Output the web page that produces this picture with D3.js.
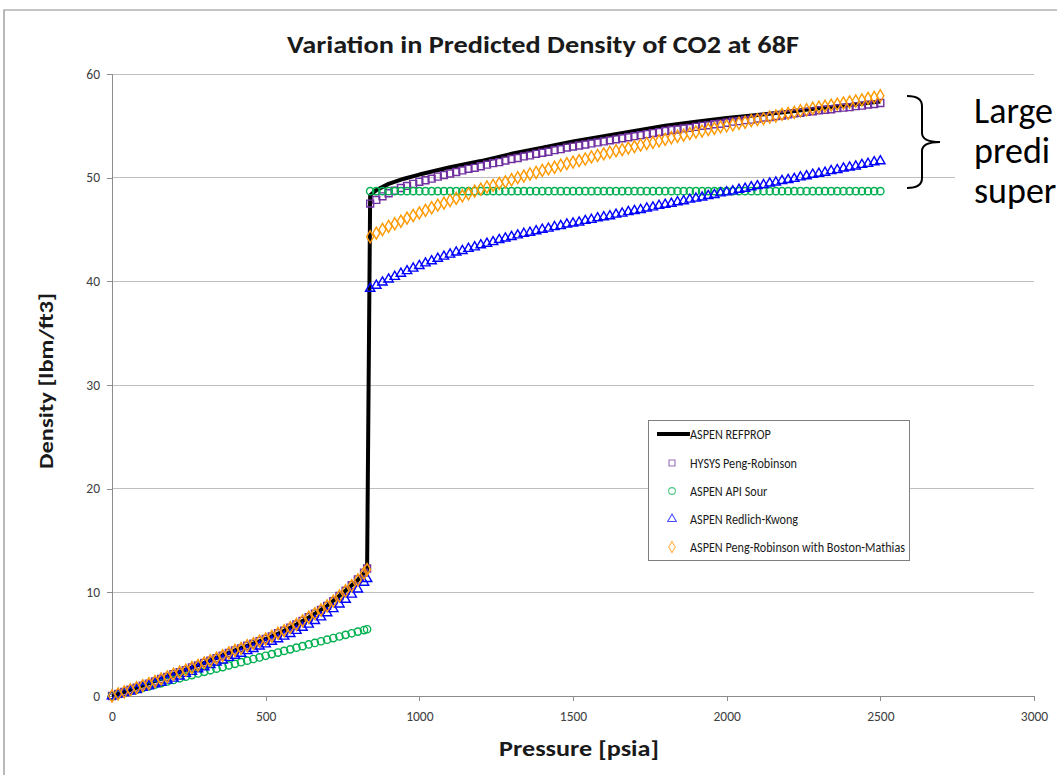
<!DOCTYPE html>
<html><head><meta charset="utf-8">
<script src="https://cdn.jsdelivr.net/npm/d3@7"></script>
<style>
html,body{margin:0;padding:0;background:#fff;overflow:hidden;}
svg{display:block;}
</style></head>
<body>
<script>
// ---------------- DATA ----------------
const xTicks = [0, 500, 1000, 1500, 2000, 2500, 3000];
const yTicks = [0, 10, 20, 30, 40, 50, 60];

// pressure points (psia) for marker series
const pressVapor = [0,20,40,60,80,100,120,140,160,180,200,220,240,260,280,300,320,340,360,380,400,420,440,460,480,500,520,540,560,580,600,620,640,660,680,700,720,740,760,780,800,820,830];
const pressLiquid = [840,860,880,900,920,940,960,980,1000,1020,1040,1060,1080,1100,1120,1140,1160,1180,1200,1220,1240,1260,1280,1300,1320,1340,1360,1380,1400,1420,1440,1460,1480,1500,1520,1540,1560,1580,1600,1620,1640,1660,1680,1700,1720,1740,1760,1780,1800,1820,1840,1860,1880,1900,1920,1940,1960,1980,2000,2020,2040,2060,2080,2100,2120,2140,2160,2180,2200,2220,2240,2260,2280,2300,2320,2340,2360,2380,2400,2420,2440,2460,2480,2500];

// ASPEN REFPROP (line)
const pressRefprop = [0,50,100,150,200,250,300,350,400,450,500,550,600,650,700,750,800,830,840,860,900,950,1000,1100,1200,1300,1400,1500,1600,1700,1800,1900,2000,2100,2200,2300,2400,2500];
const densRefprop = [0,0.5,1.0,1.55,2.1,2.65,3.2,3.8,4.4,4.95,5.5,6.15,6.9,7.75,8.7,9.9,11.2,12.2,48.3,48.8,49.4,49.9,50.3,51.0,51.6,52.3,52.9,53.5,54.0,54.5,55.0,55.4,55.75,56.05,56.35,56.7,57.0,57.35];

// HYSYS Peng-Robinson
const hysysVapor = [0.0,0.2,0.4,0.6,0.8,1.0,1.2,1.4,1.65,1.85,2.1,2.3,2.5,2.75,2.95,3.2,3.4,3.65,3.9,4.15,4.4,4.6,4.85,5.05,5.3,5.5,5.75,6.05,6.3,6.6,6.9,7.25,7.6,7.95,8.3,8.7,9.15,9.65,10.15,10.7,11.25,11.9,12.3];
const hysysLiquid = [47.5,47.85,48.2,48.5,48.75,49.0,49.2,49.4,49.6,49.75,49.9,50.1,50.25,50.4,50.55,50.7,50.85,50.95,51.1,51.25,51.4,51.5,51.65,51.8,51.9,52.05,52.15,52.3,52.4,52.5,52.65,52.75,52.9,53.0,53.1,53.2,53.3,53.4,53.5,53.6,53.7,53.8,53.9,54.0,54.1,54.2,54.3,54.4,54.5,54.6,54.65,54.75,54.8,54.9,55.0,55.05,55.15,55.2,55.3,55.4,55.45,55.55,55.6,55.7,55.8,55.85,55.95,56.0,56.1,56.2,56.25,56.35,56.4,56.5,56.55,56.6,56.7,56.75,56.8,56.9,56.95,57.05,57.1,57.2];

// ASPEN API Sour
const apiVapor = [0.0,0.16,0.31,0.47,0.62,0.78,0.93,1.09,1.24,1.4,1.55,1.71,1.86,2.02,2.17,2.33,2.48,2.64,2.79,2.95,3.1,3.26,3.41,3.57,3.72,3.88,4.04,4.19,4.35,4.5,4.66,4.81,4.97,5.12,5.28,5.43,5.59,5.74,5.9,6.05,6.21,6.36,6.44];
const apiLiquid = [48.7,48.7,48.7,48.7,48.7,48.7,48.7,48.7,48.7,48.7,48.7,48.7,
48.7,48.7,48.7,48.7,48.7,48.7,48.7,48.7,48.7,48.7,48.7,48.7,
48.7,48.7,48.7,48.7,48.7,48.7,48.7,48.7,48.7,48.7,48.7,48.7,
48.7,48.7,48.7,48.7,48.7,48.7,48.7,48.7,48.7,48.7,48.7,48.7,
48.7,48.7,48.7,48.7,48.7,48.7,48.7,48.7,48.7,48.7,48.7,48.7,
48.7,48.7,48.7,48.7,48.7,48.7,48.7,48.7,48.7,48.7,48.7,48.7,
48.7,48.7,48.7,48.7,48.7,48.7,48.7,48.7,48.7,48.7,48.7,48.7];

// ASPEN Redlich-Kwong
const rkVapor = [0.0,0.15,0.3,0.45,0.6,0.8,0.95,1.15,1.3,1.5,1.7,1.9,2.15,2.35,2.6,2.8,3.0,3.25,3.45,3.7,3.9,4.1,4.35,4.55,4.8,5.0,5.25,5.5,5.75,6.0,6.3,6.6,6.9,7.25,7.6,8.0,8.4,8.85,9.3,9.8,10.3,10.95,11.3];
const rkLiquid = [39.3,39.6,39.9,40.2,40.45,40.75,41.0,41.25,41.5,41.75,41.95,42.2,42.4,42.6,42.8,42.95,43.15,43.3,43.5,43.65,43.8,44.0,44.15,44.3,44.45,44.6,44.7,44.85,45.0,45.1,45.25,45.35,45.5,45.6,45.7,45.85,45.95,46.1,46.2,46.3,46.45,46.55,46.7,46.8,46.9,47.05,47.15,47.3,47.4,47.5,47.65,47.75,47.9,48.0,48.1,48.25,48.35,48.5,48.6,48.7,48.85,48.95,49.1,49.2,49.3,49.45,49.55,49.7,49.8,49.9,50.05,50.15,50.3,50.4,50.5,50.65,50.75,50.9,51.0,51.1,51.25,51.35,51.5,51.6];

// ASPEN Peng-Robinson with Boston-Mathias
const prbmVapor = [0.0,0.2,0.4,0.6,0.8,1.0,1.2,1.4,1.65,1.85,2.1,2.3,2.5,2.75,2.95,3.2,3.4,3.65,3.9,4.15,4.4,4.6,4.85,5.05,5.3,5.5,5.75,6.05,6.3,6.6,6.9,7.25,7.6,7.95,8.3,8.7,9.15,9.65,10.15,10.65,11.2,11.85,12.2];
const prbmLiquid = [44.3,44.65,45.0,45.3,45.55,45.8,46.1,46.35,46.6,46.85,47.1,47.35,47.55,47.8,48.0,48.25,48.45,48.7,48.9,49.1,49.25,49.45,49.6,49.8,50.0,50.15,50.35,50.5,50.7,50.85,51.0,51.2,51.35,51.5,51.65,51.8,52.0,52.15,52.3,52.45,52.6,52.7,52.85,53.0,53.15,53.3,53.4,53.55,53.7,53.85,54.0,54.1,54.25,54.4,54.5,54.65,54.75,54.9,55.0,55.1,55.25,55.35,55.5,55.6,55.7,55.85,55.95,56.1,56.2,56.3,56.45,56.55,56.7,56.8,56.9,57.0,57.1,57.2,57.3,57.4,57.5,57.65,57.75,57.9];

const seriesNames = ["ASPEN REFPROP", "HYSYS Peng-Robinson", "ASPEN API Sour", "ASPEN Redlich-Kwong", "ASPEN Peng-Robinson with Boston-Mathias"];
const seriesColors = ["#000000", "#7030A0", "#00B050", "#0000FF", "#FF9900"];
const seriesSymbols = [null, d3.symbolSquare, d3.symbolCircle, d3.symbolTriangle, d3.symbolDiamond];
// visible part of the side annotation (the slide crops it at the right edge)
const annotationLines = ["Large", "predi", "super"];

// ---------------- LAYOUT ----------------
const W = 1057, H = 775;
const FONT = "Carlito, Calibri, Lato, 'Open Sans', sans-serif";
const svg = d3.select("body").append("svg").attr("width", W).attr("height", H);

const x = d3.scaleLinear().domain([0, 3000]).range([112, 1034]);
const y = d3.scaleLinear().domain([0, 60]).range([696, 74]);

function squeeze(sel, target) {
  sel.attr("textLength", target).attr("lengthAdjust", "spacingAndGlyphs");
}
function condense(sel, factor) {
  sel.each(function() {
    const len = this.getComputedTextLength();
    d3.select(this).attr("textLength", (len * factor).toFixed(1)).attr("lengthAdjust", "spacingAndGlyphs");
  });
}

// chart frame
svg.append("path").attr("d", `M4,${H} L4,10 L${W},10`).attr("fill", "none")
  .attr("stroke", "#8a8a8a").attr("stroke-width", 1.2);

// title
const title = svg.append("text").attr("x", 543).attr("y", 53).attr("text-anchor", "middle")
  .attr("font-family", FONT).attr("font-weight", "bold").attr("font-size", 25).attr("fill", "#1a1a1a")
  .text("Variation in Predicted Density of CO2 at 68F");
squeeze(title, 512);

// gridlines
svg.append("g").selectAll("line").data(yTicks.filter(d => d > 0)).join("line")
  .attr("x1", x(0)).attr("x2", x(3000)).attr("y1", d => y(d)).attr("y2", d => y(d))
  .attr("stroke", "#bfbfbf").attr("stroke-width", 1).attr("shape-rendering", "crispEdges");

// axes
const yAxis = svg.append("g").attr("transform", `translate(${x(0)},0)`)
  .call(d3.axisLeft(y).tickValues(yTicks).tickFormat(d3.format("d")).tickSize(5).tickPadding(7));
const xAxis = svg.append("g").attr("transform", `translate(0,${y(0)})`)
  .call(d3.axisBottom(x).tickValues(xTicks).tickFormat(d3.format("d")).tickSize(5).tickPadding(10));
[xAxis, yAxis].forEach(g => {
  g.select(".domain").attr("stroke", "#8c8c8c").attr("shape-rendering", "crispEdges");
  g.selectAll(".tick line").attr("stroke", "#8c8c8c").attr("shape-rendering", "crispEdges");
  g.selectAll(".tick text").attr("font-family", FONT).attr("font-size", 13.5).attr("fill", "#404040");
});

// axis titles
const xl = svg.append("text").attr("x", 579).attr("y", 756).attr("text-anchor", "middle")
  .attr("font-family", FONT).attr("font-weight", "bold").attr("font-size", 22).attr("fill", "#1a1a1a")
  .text("Pressure [psia]");
squeeze(xl, 160);
const yl = svg.append("text").attr("transform", "translate(53,381) rotate(-90)").attr("text-anchor", "middle")
  .attr("font-family", FONT).attr("font-weight", "bold").attr("font-size", 20).attr("fill", "#1a1a1a")
  .text("Density [lbm/ft3]");
squeeze(yl, 176);

// REFPROP line
const refData = pressRefprop.map((p, i) => [p, densRefprop[i]]);
svg.append("path").datum(refData)
  .attr("d", d3.line().x(d => x(d[0])).y(d => y(d[1])))
  .attr("fill", "none").attr("stroke", "#000").attr("stroke-width", 4).attr("stroke-linejoin", "round");

// marker series
function pairs(press, vals) {
  const n = Math.min(press.length, vals.length);
  return d3.range(n).map(i => [press[i], vals[i]]);
}
const markerSeries = [
  {data: pairs(pressVapor, hysysVapor).concat(pairs(pressLiquid, hysysLiquid)), i: 1, size: 48},
  {data: pairs(pressVapor, apiVapor).concat(pairs(pressLiquid, apiLiquid)), i: 2, size: 42},
  {data: pairs(pressVapor, rkVapor).concat(pairs(pressLiquid, rkLiquid)), i: 3, size: 38},
  {data: pairs(pressVapor, prbmVapor).concat(pairs(pressLiquid, prbmLiquid)), i: 4, size: 42}
];
markerSeries.forEach(s => {
  const sym = d3.symbol().type(seriesSymbols[s.i]).size(s.size);
  svg.append("g").selectAll("path").data(s.data).join("path")
    .attr("transform", d => `translate(${x(d[0])},${y(d[1])})`)
    .attr("d", sym).attr("fill", "none").attr("stroke", seriesColors[s.i]).attr("stroke-width", 1.4);
});

// legend
const lg = svg.append("g");
lg.append("rect").attr("x", 648.5).attr("y", 420.5).attr("width", 261).attr("height", 140)
  .attr("fill", "#fff").attr("stroke", "#7f7f7f").attr("stroke-width", 1);
const rowY = [434, 463, 491, 519, 547];
seriesNames.forEach((name, i) => {
  if (i === 0) {
    lg.append("line").attr("x1", 657).attr("x2", 690).attr("y1", rowY[i]).attr("y2", rowY[i])
      .attr("stroke", "#000").attr("stroke-width", 4);
  } else {
    lg.append("path").attr("transform", `translate(672,${rowY[i]})`)
      .attr("d", d3.symbol().type(seriesSymbols[i]).size(i === 3 ? 32 : 36)).attr("fill", "none")
      .attr("stroke", seriesColors[i]).attr("stroke-opacity", 0.7).attr("stroke-width", 1.1);
  }
  lg.append("text").attr("x", 690).attr("y", rowY[i] + 4.5)
    .attr("font-family", FONT).attr("font-size", 13.5).attr("fill", "#1a1a1a").text(name);
});
// Calibri-like narrow set width
const lt = lg.selectAll("text");
const longest = lt.filter((d, i) => i === 4).node().getComputedTextLength();
condense(lt, 215 / longest);

// annotation
svg.append("rect").attr("x", 955).attr("y", 82).attr("width", 110).attr("height", 135).attr("fill", "#fff");
svg.append("path").attr("d", "M907,96 Q922,96 922,106 L922,133 Q922,142 940,142 Q922,142 922,151 L922,178 Q922,188 907,188")
  .attr("fill", "none").attr("stroke", "#000").attr("stroke-width", 2);
const annY = [123, 163, 203];
annotationLines.forEach((s, i) => {
  svg.append("text").attr("x", 974).attr("y", annY[i]).attr("font-family", FONT)
    .attr("font-size", 36).attr("fill", "#000").text(s);
});
</script>
</body></html>
